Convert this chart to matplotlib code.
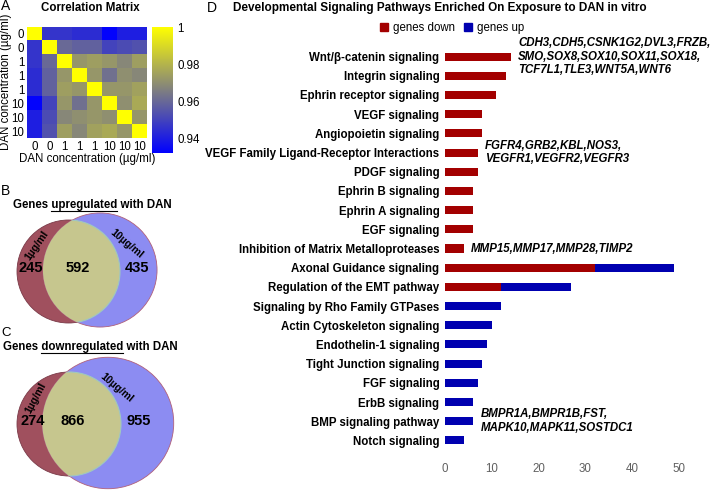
import numpy as np
import matplotlib
matplotlib.use('Agg')
import matplotlib.pyplot as plt
from matplotlib.colors import LinearSegmentedColormap
from matplotlib.patches import Circle, Patch

plt.rcParams['font.family'] = ['Liberation Sans', 'DejaVu Sans']

W, H = 712, 490

# ---- panel A data
conc = ['0', '0', '1', '1', '1', '10', '10', '10']
corr = np.array([
    [1.000, 0.946, 0.946, 0.944, 0.944, 0.933, 0.940, 0.940],
    [0.946, 1.000, 0.960, 0.958, 0.958, 0.950, 0.952, 0.954],
    [0.946, 0.960, 1.000, 0.972, 0.974, 0.972, 0.968, 0.974],
    [0.944, 0.958, 0.972, 1.000, 0.972, 0.962, 0.970, 0.968],
    [0.944, 0.958, 0.974, 0.972, 1.000, 0.972, 0.972, 0.975],
    [0.933, 0.950, 0.972, 0.962, 0.972, 1.000, 0.970, 0.977],
    [0.940, 0.952, 0.968, 0.970, 0.972, 0.970, 1.000, 0.972],
    [0.940, 0.954, 0.974, 0.968, 0.975, 0.977, 0.972, 1.000],
])

# ---- venn counts (only 1ug/ml, both, only 10ug/ml)
venn_up = [245, 592, 435]
venn_down = [274, 866, 955]

# ---- panel D data
pathways = ['Wnt/β-catenin signaling', 'Integrin signaling', 'Ephrin receptor signaling',
            'VEGF signaling', 'Angiopoietin signaling',
            'VEGF Family Ligand-Receptor Interactions', 'PDGF signaling',
            'Ephrin B signaling', 'Ephrin A signaling', 'EGF signaling',
            'Inhibition of Matrix Metalloproteases', 'Axonal Guidance signaling',
            'Regulation of the EMT pathway', 'Signaling by Rho Family GTPases',
            'Actin Cytoskeleton signaling', 'Endothelin-1 signaling',
            'Tight Junction signaling', 'FGF signaling', 'ErbB signaling',
            'BMP signaling pathway', 'Notch signaling']
genes_down = [14, 13, 11, 8, 8, 7, 7, 6, 6, 6, 4, 32, 12, 0, 0, 0, 0, 0, 0, 0, 0]
genes_up = [0, 0, 0, 0, 0, 0, 0, 0, 0, 0, 0, 17, 15, 12, 10, 9, 8, 7, 6, 6, 4]
gene_notes = {
    0: 'CDH3,CDH5,CSNK1G2,DVL3,FRZB,\nSMO,SOX8,SOX10,SOX11,SOX18,\nTCF7L1,TLE3,WNT5A,WNT6',
    5: 'FGFR4,GRB2,KBL,NOS3,\nVEGFR1,VEGFR2,VEGFR3',
    10: 'MMP15,MMP17,MMP28,TIMP2',
    19: 'BMPR1A,BMPR1B,FST,\nMAPK10,MAPK11,SOSTDC1',
}

RED = '#a30000'
BLUE = '#0000b0'
FS = 8.3


def box(x0, y0, x1, y1):
    return [x0 / W, 1 - y1 / H, (x1 - x0) / W, (y1 - y0) / H]


fig = plt.figure(figsize=(W / 100, H / 100), dpi=100)

# overlay axes in pixel coords for free text and venn diagrams
ov = fig.add_axes([0, 0, 1, 1])
ov.set_xlim(0, W)
ov.set_ylim(H, 0)
ov.axis('off')

# ---------------- A: correlation matrix
cmap = LinearSegmentedColormap.from_list('by', ['#0000ff', '#ffff00'])
axA = fig.add_axes(box(27, 27, 147, 138))
im = axA.imshow(corr, cmap=cmap, vmin=0.932, vmax=1.0, aspect='auto')
axA.set_xticks(range(8))
axA.set_xticklabels(conc, fontsize=FS)
axA.set_yticks(range(8))
axA.set_yticklabels(conc, fontsize=FS)
axA.tick_params(length=0, pad=2)
for s in axA.spines.values():
    s.set_visible(False)
axA.set_xlabel('DAN concentration (µg/ml)', fontsize=FS, labelpad=0)
ov.text(6, 82, 'DAN concentration (µg/ml)', fontsize=FS, rotation=90, ha='center', va='center')
cax = fig.add_axes(box(152, 27, 173, 153))
cb = fig.colorbar(im, cax=cax)
cb.set_ticks([0.94, 0.96, 0.98, 1.0])
cb.set_ticklabels(['0.94', '0.96', '0.98', '1'])
cb.ax.tick_params(length=0, labelsize=FS, pad=3)
cb.outline.set_visible(False)
ov.text(90, 8, 'Correlation Matrix', fontsize=FS, fontweight='bold', ha='center', va='center')
ov.text(1, 6, 'A', fontsize=10, ha='left', va='center')


# ---------------- B / C: venn diagrams
def venn(counts, c1, c2, k, lab1, lab10, numpos, title_xy, word):
    r1 = k * np.sqrt(counts[0] + counts[1])
    r2 = k * np.sqrt(counts[1] + counts[2])
    ov.add_patch(Circle(c1, r1, facecolor='#a0505e', edgecolor='#7a3a48', lw=0.6, zorder=2))
    ov.add_patch(Circle(c2, r2, facecolor='#8c8cf2', edgecolor='#b0607a', lw=0.6, zorder=3))
    clip = Circle(c2, r2, transform=ov.transData, visible=False)
    ov.add_patch(clip)
    lens = Circle(c1, r1, facecolor='#c6c68e', edgecolor='#9fc8c0', lw=0.8, zorder=4)
    ov.add_patch(lens)
    lens.set_clip_path(clip)
    for (x, y), n in zip(numpos, counts):
        ov.text(x, y, str(n), fontsize=10.5, fontweight='bold', ha='center', va='center', zorder=6)
    ov.text(lab1[0], lab1[1], '1µg/ml', rotation=lab1[2], fontsize=7.6, fontweight='bold',
            ha='center', va='center', zorder=6, rotation_mode='anchor')
    ov.text(lab10[0], lab10[1], '10µg/ml', rotation=lab10[2], fontsize=7.6, fontweight='bold',
            ha='center', va='center', zorder=6, rotation_mode='anchor')
    # title with underlined word
    tx, ty = title_xy
    full = 'Genes %s with DAN' % word
    ov.text(tx, ty, full, fontsize=FS, fontweight='bold', ha='left', va='center')
    fig.canvas.draw()
    r = fig.canvas.get_renderer()
    t1 = ov.text(0, 0, 'Genes ' + word, fontsize=FS, fontweight='bold')
    t2 = ov.text(0, 0, word, fontsize=FS, fontweight='bold')
    w1 = t1.get_window_extent(r).width
    w2 = t2.get_window_extent(r).width
    t1.remove()
    t2.remove()
    ov.plot([tx + w1 - w2, tx + w1], [ty + 6, ty + 6], color='black', lw=0.8)


venn(venn_up, (68.5, 271.5), (100, 270), 1.78,
     (37, 245, 55), (127, 244, -40),
     [(31, 268), (78, 268), (137, 268)], (13, 205), 'upregulated')
ov.text(1, 191, 'B', fontsize=10, ha='left', va='center')

venn(venn_down, (69, 424), (108, 423), 1.54,
     (36, 398, 62), (117, 388, -40),
     [(33, 421), (73, 421), (139, 421)], (3, 347), 'downregulated')
ov.text(1, 333, 'C', fontsize=9.5, ha='left', va='center')

# ---------------- D: pathways
axD = fig.add_axes(box(445, 47, 679, 450))
y = np.arange(len(pathways))
axD.barh(y, genes_down, height=0.42, color=RED, label='genes down')
axD.barh(y, genes_up, left=genes_down, height=0.42, color=BLUE, label='genes up')
axD.set_xlim(0, 50)
axD.set_ylim(len(pathways) - 0.5, -0.5)
axD.set_yticks(y)
axD.set_yticklabels(pathways, fontsize=FS, fontweight='bold')
axD.set_xticks([0, 10, 20, 30, 40, 50])
axD.tick_params(axis='x', length=0, labelsize=FS, labelcolor='#606060', pad=9)
axD.tick_params(axis='y', length=0, pad=4)
for s in axD.spines.values():
    s.set_visible(False)
for i, txt in gene_notes.items():
    end = genes_down[i] + genes_up[i]
    axD.text(end + 1.6, i, txt, fontsize=FS, fontweight='bold', style='italic',
             ha='left', va='center', linespacing=1.2)
ov.text(440, 8, 'Developmental Signaling Pathways Enriched On Exposure to DAN in vitro',
        fontsize=8.5, fontweight='bold', ha='center', va='center')
ov.text(212, 8, 'D', fontsize=10, ha='center', va='center')
handles = [Patch(color=RED, label='genes down'), Patch(color=BLUE, label='genes up')]
fig.legend(handles=handles, ncol=2, frameon=False, fontsize=FS, loc='center',
           bbox_to_anchor=(452 / W, 1 - 28 / H), handlelength=0.7, handleheight=0.7,
           handletextpad=0.4, columnspacing=0.8)

fig.savefig('out.png', dpi=100)
